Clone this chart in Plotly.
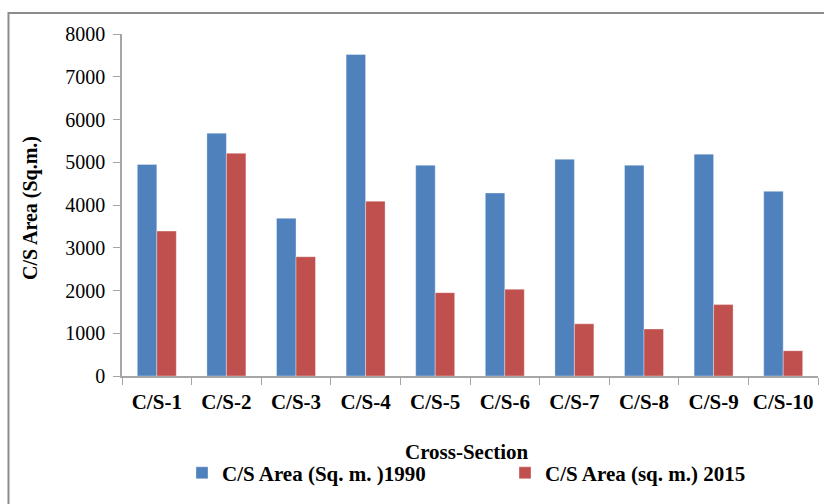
import plotly.graph_objects as go

# Cross-section labels and areas (sq. m.)
sections = ["C/S-1", "C/S-2", "C/S-3", "C/S-4", "C/S-5",
            "C/S-6", "C/S-7", "C/S-8", "C/S-9", "C/S-10"]
area_1990 = [4950, 5680, 3690, 7520, 4930, 4280, 5070, 4930, 5190, 4320]
area_2015 = [3390, 5210, 2790, 4090, 1950, 2030, 1220, 1100, 1670, 590]
y_ticks = [0, 1000, 2000, 3000, 4000, 5000, 6000, 7000, 8000]

FONT = "Liberation Serif"
BLUE = "#4F81BD"
RED = "#C0504D"
AXIS = "#A6A6A6"

fig = go.Figure()
fig.add_trace(go.Bar(
    x=sections, y=area_1990, name="<b>C/S Area (Sq. m. )1990</b>", legend="legend",
    marker=dict(color=BLUE, line=dict(color="rgba(255,255,255,0.35)", width=1)),
))
fig.add_trace(go.Bar(
    x=sections, y=area_2015, name="<b>C/S Area (sq. m.) 2015</b>", legend="legend2",
    marker=dict(color=RED, line=dict(color="rgba(255,255,255,0.35)", width=1)),
))

legend_common = dict(
    orientation="h", xanchor="left", y=-0.284, yanchor="middle",
    font=dict(family=FONT, size=21, color="black"),
    bgcolor="rgba(0,0,0,0)", itemclick=False,
)

fig.update_layout(
    width=824, height=504,
    margin=dict(l=122, r=6, t=34, b=128, autoexpand=False),
    paper_bgcolor="white", plot_bgcolor="white",
    barmode="group", bargap=0.44, bargroupgap=0,
    font=dict(family=FONT, color="black", size=20),
    showlegend=True,
    legend=dict(x=0.0862, **legend_common),
    legend2=dict(x=0.5503, **legend_common),
    xaxis=dict(
        showline=True, linecolor=AXIS, linewidth=1.5,
        ticks="outside", tickson="boundaries", ticklen=7, tickcolor=AXIS,
        tickangle=0, ticklabelstandoff=6,
        tickfont=dict(family=FONT, size=21, color="black"),
        tickprefix="<b>", ticksuffix="</b>",
        showgrid=False, zeroline=False,
    ),
    yaxis=dict(
        range=[0, 8000], tickvals=y_ticks,
        showline=True, linecolor=AXIS, linewidth=1.5,
        ticks="outside", ticklen=7, tickcolor=AXIS,
        ticklabelstandoff=4,
        tickfont=dict(family=FONT, size=20, color="black"),
        tickprefix="<b>", ticksuffix="</b>",
        showgrid=False, zeroline=False,
    ),
    annotations=[
        dict(text="<b>Cross-Section</b>", xref="paper", yref="paper", x=0.495, y=-0.222,
             showarrow=False, xanchor="center", yanchor="middle",
             font=dict(family=FONT, size=21, color="black")),
        dict(text="<b>C/S Area (Sq.m.)</b>", xref="paper", yref="paper", x=-0.1322, y=0.491,
             showarrow=False, textangle=-90, xanchor="center", yanchor="middle",
             font=dict(family=FONT, size=20, color="black")),
    ],
    shapes=[
        # outer frame around the chart
        dict(type="rect", xref="paper", yref="paper",
             x0=-0.1631, x1=1.03, y0=-0.40, y1=1.0614,
             line=dict(color="#8C8C8C", width=2), fillcolor="rgba(0,0,0,0)", layer="below"),
    ],
)

fig.write_html("out.html")
